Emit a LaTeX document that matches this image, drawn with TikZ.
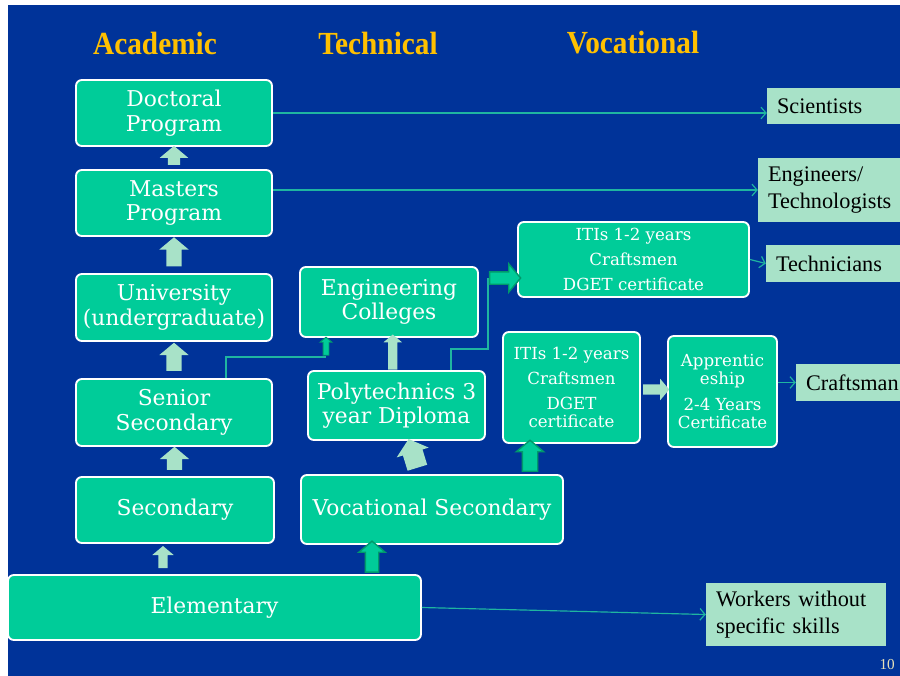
\documentclass[tikz,border=0pt]{standalone}
\usepackage{fontspec}
\setmainfont{DejaVu Serif}
\newfontfamily\timesfont{Liberation Serif}
\usetikzlibrary{shapes.arrows,calc,arrows.meta}
\definecolor{bgblue}{HTML}{003399}
\definecolor{boxgreen}{HTML}{00CC99}
\definecolor{palegreen}{HTML}{A8E2C8}
\definecolor{edgegreen}{HTML}{00996B}
\definecolor{linkteal}{HTML}{1FB5A0}
\definecolor{headgold}{HTML}{FFC000}
\definecolor{pagegray}{HTML}{E6E0B8}
\newlength\px
\setlength\px{0.03cm}
\begin{document}
\begin{tikzpicture}[>={Straight Barb[length=4.3pt,width=10pt]},x=0.03cm,y=-0.03cm,
  box/.style={draw=white,line width=1.6pt,rounded corners=5pt,fill=boxgreen,text=white,align=center,inner sep=0pt,font=\fontsize{18.6}{20.8}\selectfont},
  smallbox/.style={box,font=\fontsize{14.2}{15.4}\selectfont},
  tag/.style={fill=palegreen,inner xsep=10\px,inner ysep=0pt,align=left,font=\timesfont\fontsize{19}{23.5}\selectfont},
  head/.style={text=headgold,font=\timesfont\bfseries\fontsize{25}{25}\selectfont,yscale=1.1},
  link/.style={linkteal,line width=1pt},
  fatarrow/.style={single arrow,fill=palegreen,inner xsep=0pt,single arrow tip angle=100},
  rimarrow/.style={fatarrow,fill=boxgreen,draw=edgegreen,line width=1.2pt}]
 \useasboundingbox (0,0) rectangle (900,676);
 \fill[bgblue] (8,5) rectangle (900,676);
 % column titles
 \node[head] (acad) at (155,43) {Academic};
 \node[head] (tech) at (378,43) {Technical};
 \node[head] (voca) at (633,43) {Vocational};
 % academic ladder
 \node[box,minimum width=196\px,minimum height=66\px] (doc) at (174,113) {Doctoral\\Program};
 \node[box,minimum width=196\px,minimum height=66\px] (mas) at (174,203) {Masters\\Program};
 \node[box,minimum width=196\px,minimum height=67\px] (uni) at (174,307.5) {University\\(undergraduate)};
 \node[box,minimum width=196\px,minimum height=67\px] (sen) at (174,412.5) {Senior\\Secondary};
 \node[box,minimum width=198\px,minimum height=66\px] (sec) at (175,510) {Secondary};
 \node[box,minimum width=413\px,minimum height=65\px] (ele) at (214.5,607.5) {Elementary};
 % technical and vocational
 \node[box,minimum width=178\px,minimum height=70\px] (eng) at (389,302) {Engineering\\Colleges};
 \node[box,minimum width=177\px,minimum height=69\px] (poly) at (396.5,405.5) {Polytechnics 3\\year Diploma};
 \node[box,minimum width=262\px,minimum height=69\px] (voc) at (432,509.5) {Vocational Secondary};
 \node[smallbox,minimum width=231\px,minimum height=75\px] (iti1) at (633.5,259.5) {ITIs 1-2 years\\[6pt]Craftsmen\\[6pt]DGET certificate};
 \node[smallbox,minimum width=137\px,minimum height=111\px] (iti2) at (571.5,387.5) {ITIs 1-2 years\\[6pt]Craftsmen\\[6pt]DGET\\certificate};
 \node[smallbox,minimum width=109\px,minimum height=111\px] (app) at (722.5,391.5) {Apprentic\\eship\\[6pt]2-4 Years\\Certificate};
 % outcomes
 \node[tag,text width=118\px,minimum height=36\px] (sci) at (836,106) {Scientists};
 \node[tag,text width=127\px,minimum height=64\px] (engr) at (831.5,190) {Engineers/\\Technologists};
 \node[tag,text width=119\px,minimum height=37\px] (tecn) at (835.5,263.5) {Technicians};
 \node[tag,text width=89\px,minimum height=37\px] (craft) at (850.5,382.5) {Craftsman};
 \node[tag,text width=160\px,minimum height=63\px] (work) at (796,614.5) {Workers without\\specific skills};
 \node[anchor=south east,inner sep=0pt,text=pagegray,font=\timesfont\fontsize{13}{13}\selectfont] (pg) at (895,670) {10};
 % block arrows
 \node[fatarrow,rotate=90,minimum height=19\px,inner ysep=6\px,single arrow head extend=8\px] (a1) at ($(mas.north)!.5!(doc.south)$) {};
 \node[fatarrow,rotate=90,minimum height=29\px,inner ysep=7.5\px,single arrow head extend=7\px] (a2) at ($(uni.north)!.5!(mas.south)$) {};
 \node[fatarrow,rotate=90,minimum height=28\px,inner ysep=7.5\px,single arrow head extend=7\px] (a3) at ($(sen.north)!.5!(uni.south)$) {};
 \node[fatarrow,rotate=90,minimum height=23\px,inner ysep=7.5\px,single arrow head extend=7\px] (a4) at ($(sec.north)!.5!(sen.south)$) {};
 \coordinate (k5) at ([xshift=-12\px]sec.south);
 \node[fatarrow,rotate=90,minimum height=22\px,inner ysep=4.5\px,single arrow head extend=6\px] (a5) at ($(k5)!.5!(k5 |- ele.north)$) {};
 \node[fatarrow,rotate=90,minimum height=35\px,inner ysep=4.5\px,single arrow head extend=4.5\px] (a6) at ($(poly.north)!.5!(eng.south)$) {};
 \node[fatarrow,rotate=107,minimum height=30\px,inner ysep=10\px,single arrow head extend=6.5\px] (a7) at ($(voc.north)!.5!(poly.south)$) {};
 \coordinate (k8) at ([xshift=-60\px]voc.south);
 \node[rimarrow,rotate=90,minimum height=31\px,inner ysep=6\px,single arrow head extend=6.5\px] (a8) at ($(k8)!.5!(k8 |- ele.north)$) {};
 \coordinate (k9) at ([xshift=-41.5\px]iti2.south);
 \node[rimarrow,rotate=90,minimum height=31\px,inner ysep=7\px,single arrow head extend=6\px] (a9) at ($(k9)!.5!(k9 |- voc.north)$) {};
 \node[fatarrow,minimum height=26\px,inner ysep=5\px,single arrow head extend=5.5\px] (a10) at ($(iti2.east)!.5!(app.west)$) {};
 % elbow links
 \coordinate (k11) at (326,357);
 \draw[link] ([xshift=52\px]sen.north) |- (k11);
 \node[rimarrow,rotate=90,minimum height=18\px,inner ysep=2.5\px,single arrow head extend=3\px,line width=0.8pt] (a11) at ($(k11)!.5!(k11 |- eng.south)$) {};
 \coordinate (k12) at (488,278);
 \draw[link] ([xshift=54.5\px]poly.north) -- ++(0,-21) -| (k12);
 \node[rimarrow,minimum height=31\px,inner ysep=5.5\px,single arrow head extend=8\px] (a12) at ($(k12)!.5!(k12 -| iti1.west)$) {};
 % thin links to outcomes
 \draw[link,->] (doc.east) -- (doc.east -| sci.west);
 \draw[link,->] (mas.east |- engr.west) -- (engr.west);
 \draw[link,->] (iti1.east) -- (tecn.west);
 \draw[link,->] (app.east |- craft.west) -- (craft.west);
 \draw[link,->] (ele.east) -- (work.west);
\end{tikzpicture}
\end{document}
